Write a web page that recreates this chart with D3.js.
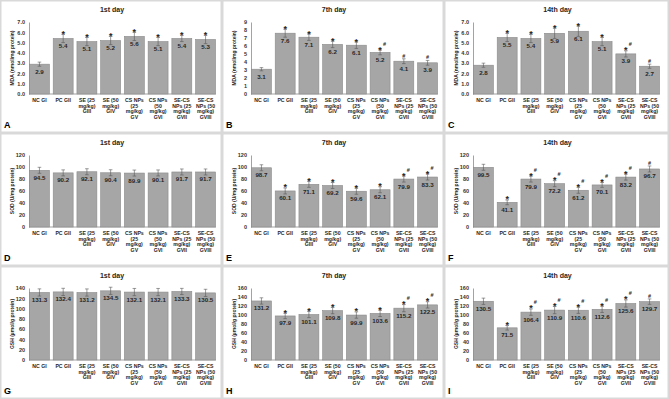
<!DOCTYPE html>
<html>
<head>
<meta charset="utf-8">
<script src="https://cdn.jsdelivr.net/npm/d3@7"></script>
<style>
  body { margin: 0; background: #fff; }
  text { font-family: "Liberation Sans", Arial, sans-serif; }
</style>
</head>
<body>
<div id="chart"></div>
<script>
// groups (x tick labels, one entry per line)
const groups = [
  ["NC GI"],
  ["PC GII"],
  ["SE (25", "mg/kg)", "GIII"],
  ["SE (50", "mg/kg)", "GIV"],
  ["CS NPs", "(25", "mg/kg)", "GV"],
  ["CS NPs", "(50", "mg/kg)", "GVI"],
  ["SE-CS", "NPs (25", "mg/kg)", "GVII"],
  ["SE-CS", "NPs (50", "mg/kg)", "GVIII"]
];
const days = ["1st day", "7th day", "14th day"];
const letters = ["A", "B", "C", "D", "E", "F", "G", "H", "I"];
const yLabels = ["MDA (nmol/mg protein)", "SOD (U/mg protein)", "GSH (µmol/g protein)"];
const yMax = [[7, 9, 7], [120, 120, 120], [140, 160, 160]];
const yStep = [[1, 1, 1], [20, 20, 20], [20, 20, 20]];

// values
const mdaDay1 = [2.9, 5.4, 5.1, 5.2, 5.6, 5.1, 5.4, 5.3];
const mdaDay7 = [3.1, 7.6, 7.1, 6.2, 6.1, 5.2, 4.1, 3.9];
const mdaDay14 = [2.8, 5.5, 5.4, 5.9, 6.1, 5.1, 3.9, 2.7];
const sodDay1 = [94.5, 90.2, 92.1, 90.4, 89.9, 90.1, 91.7, 91.7];
const sodDay7 = [98.7, 60.1, 71.1, 69.2, 59.6, 62.1, 79.9, 83.3];
const sodDay14 = [99.5, 41.1, 79.9, 72.2, 61.2, 70.1, 83.2, 96.7];
const gshDay1 = [131.3, 132.4, 131.2, 134.5, 132.1, 132.1, 133.3, 130.5];
const gshDay7 = [131.2, 97.9, 101.1, 109.8, 99.9, 103.6, 115.2, 122.5];
const gshDay14 = [130.5, 71.5, 106.4, 110.9, 110.6, 112.6, 125.6, 129.7];

// error bars (estimated)
const mdaErr1 = [0.2, 0.4, 0.4, 0.4, 0.4, 0.4, 0.3, 0.4];
const mdaErr7 = [0.2, 0.5, 0.4, 0.4, 0.4, 0.3, 0.3, 0.3];
const mdaErr14 = [0.2, 0.4, 0.4, 0.5, 0.5, 0.4, 0.3, 0.2];
const sodErr1 = [5, 5, 5, 5, 5, 5, 5, 5];
const sodErr7 = [5, 5, 5, 5, 5, 5, 5, 5];
const sodErr14 = [5, 4, 5, 5, 5, 4, 5, 5];
const gshErr1 = [7, 7, 7, 7, 7, 7, 6, 7];
const gshErr7 = [7, 6, 7, 7, 7, 7, 8, 7];
const gshErr14 = [7, 5, 7, 8, 7, 7, 8, 6];

// significance marks: * vs NC, # vs PC
const sigNone = ["", "", "", "", "", "", "", ""];
const sigAll = ["", "*", "*", "*", "*", "*", "*", "*"];
const sigMda7 = ["", "*", "*", "*", "*", "*#", "#", "#"];
const sigMda14 = ["", "*", "*", "*", "*", "*", "*#", "#"];
const sigSod7 = ["", "*", "*", "*", "*", "*", "*#", "*#"];
const sigSod14 = ["", "*", "*#", "*#", "*#", "*#", "*#", "#"];
const sigGsh7 = ["", "*", "*", "*", "*", "*", "*#", "*#"];
const sigGsh14 = ["", "*", "*#", "*#", "*#", "*#", "*#", "#"];

const values = [[mdaDay1, mdaDay7, mdaDay14], [sodDay1, sodDay7, sodDay14], [gshDay1, gshDay7, gshDay14]];
const errors = [[mdaErr1, mdaErr7, mdaErr14], [sodErr1, sodErr7, sodErr14], [gshErr1, gshErr7, gshErr14]];
const sigs = [[sigAll, sigMda7, sigMda14], [sigNone, sigSod7, sigSod14], [sigNone, sigGsh7, sigGsh14]];

const width = 669, height = 399;
const colX = [0, 222, 444], rowY = [0, 133, 266];
const panelW = [222, 222, 225], panelH = [133, 133, 133];

const svg = d3.select("#chart").append("svg")
  .attr("width", width).attr("height", height);

svg.append("rect").attr("width", width).attr("height", height).attr("fill", "#fff");

for (let r = 0; r < 3; r++) {
  for (let c = 0; c < 3; c++) {
    const ox = colX[c], oy = rowY[r];
    const g = svg.append("g").attr("transform", `translate(${ox},${oy})`);
    const vals = values[r][c], errs = errors[r][c], sig = sigs[r][c];

    // panel frame
    g.append("rect")
      .attr("x", 0.75).attr("y", 0.75)
      .attr("width", panelW[c] - 1.5).attr("height", panelH[r] - 1.5)
      .attr("fill", "none").attr("stroke", "#d9d9d9").attr("stroke-width", 1.5);

    const x = d3.scaleBand().domain(d3.range(8)).range([29, 216]).paddingInner(0.16).paddingOuter(0.02);
    const y = d3.scaleLinear().domain([0, yMax[r][c]]).range([94, 22]);

    // title
    g.append("text").attr("x", panelW[c] / 2 + 1).attr("y", 12)
      .attr("text-anchor", "middle").attr("font-size", 7).attr("font-weight", "bold")
      .attr("fill", "#262626").text(days[c]);

    // y axis
    const ticks = d3.range(0, yMax[r][c] + yStep[r][c] / 2, yStep[r][c]);
    const yAxis = g.append("g").attr("transform", "translate(29,0)")
      .call(d3.axisLeft(y).tickValues(ticks).tickSize(0).tickPadding(4));
    yAxis.select(".domain").attr("stroke", "#8c8c8c").attr("stroke-width", 0.8);
    yAxis.selectAll("text").attr("font-size", 5.5).attr("font-weight", "bold")
      .attr("fill", "#333").style("font-family", "Liberation Sans, Arial, sans-serif");

    // x baseline
    g.append("line").attr("x1", 29).attr("x2", 216).attr("y1", y(0)).attr("y2", y(0))
      .attr("stroke", "#8c8c8c").attr("stroke-width", 0.8);

    // y label
    g.append("text").attr("transform", `translate(14,${(y(0) + y(yMax[r][c])) / 2}) rotate(-90)`)
      .attr("text-anchor", "middle").attr("font-size", 5).attr("font-weight", "bold")
      .attr("fill", "#262626").text(yLabels[r]);

    // bars
    g.selectAll("rect.bar").data(vals).enter().append("rect")
      .attr("class", "bar")
      .attr("x", (d, i) => x(i)).attr("width", x.bandwidth())
      .attr("y", d => y(d)).attr("height", d => y(0) - y(d))
      .attr("fill", "#a6a6a6").attr("stroke", "#8a8a8a").attr("stroke-width", 0.6);

    // error bars
    const eb = g.selectAll("g.err").data(vals).enter().append("g").attr("class", "err")
      .attr("stroke", "#595959").attr("stroke-width", 0.6);
    eb.append("line")
      .attr("x1", (d, i) => x(i) + x.bandwidth() / 2).attr("x2", (d, i) => x(i) + x.bandwidth() / 2)
      .attr("y1", (d, i) => y(d - errs[i])).attr("y2", (d, i) => y(d + errs[i]));
    [1, -1].forEach(s => {
      eb.append("line")
        .attr("x1", (d, i) => x(i) + x.bandwidth() / 2 - 1.8).attr("x2", (d, i) => x(i) + x.bandwidth() / 2 + 1.8)
        .attr("y1", (d, i) => y(d + s * errs[i])).attr("y2", (d, i) => y(d + s * errs[i]));
    });

    // value labels
    g.selectAll("text.val").data(vals).enter().append("text")
      .attr("class", "val")
      .attr("x", (d, i) => x(i) + x.bandwidth() / 2).attr("y", d => y(d) + 9.5)
      .attr("text-anchor", "middle").attr("font-size", 6.2).attr("font-weight", "bold")
      .attr("fill", "#262626").text(d => d.toFixed(1));

    // significance marks
    vals.forEach((d, i) => {
      const cx = x(i) + x.bandwidth() / 2;
      const top = y(d + errs[i]);
      const s = sig[i];
      if (s.includes("*")) {
        g.append("text").attr("x", cx).attr("y", top + 2.5)
          .attr("text-anchor", "middle").attr("font-size", 9).attr("font-weight", "bold")
          .attr("fill", "#262626").text("*");
      }
      if (s.includes("#")) {
        const hx = s.includes("*") ? cx + 4.5 : cx;
        const hy = s.includes("*") ? top - 4.5 : top - 1;
        g.append("text").attr("x", hx).attr("y", hy)
          .attr("text-anchor", "middle").attr("font-size", 5.5).attr("font-weight", "bold")
          .attr("fill", "#262626").text("#");
      }
    });

    // x tick labels
    groups.forEach((lines, i) => {
      const t = g.append("text").attr("x", x(i) + x.bandwidth() / 2).attr("y", 102)
        .attr("text-anchor", "middle").attr("font-size", 5.2).attr("font-weight", "bold")
        .attr("fill", "#262626");
      lines.forEach((ln, k) => {
        t.append("tspan").attr("x", x(i) + x.bandwidth() / 2).attr("y", 102 + k * 5.5).text(ln);
      });
    });

    // panel letter
    g.append("text").attr("x", 4).attr("y", 128)
      .attr("font-size", 9).attr("font-weight", "bold").attr("fill", "#000")
      .text(letters[r * 3 + c]);
  }
}
</script>
</body>
</html>
